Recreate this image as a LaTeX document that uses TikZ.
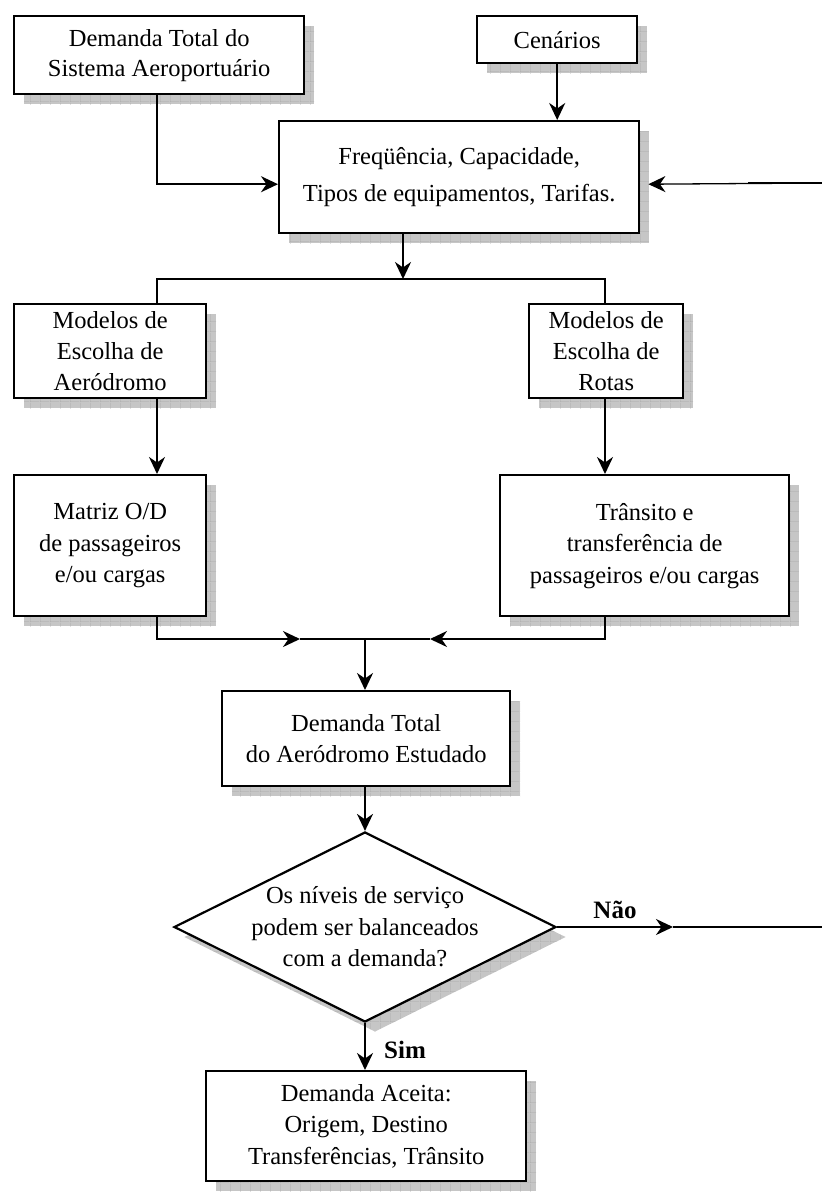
\documentclass[tikz,border=0pt]{standalone}
\usepackage{fontspec}
\setmainfont{Liberation Serif}
\usetikzlibrary{arrows.meta,shapes.geometric,shadows,calc,patterns.meta}
\tikzdeclarepattern{name=shgrid,type=uncolored,bounding box={(0pt,0pt) and (10pt,10pt)},
  tile size={(10pt,10pt)},line width=0.9pt,
  code={\draw (0pt,0pt) -- (10pt,0pt) (0pt,0pt) -- (0pt,10pt);}}
\begin{document}
\begin{tikzpicture}[x=1pt,y=-1pt,
  shad/.style={general shadow={shadow xshift=10pt,shadow yshift=-10pt,fill=gray!45,
      postaction={pattern=shgrid,pattern color=gray!68}}},
  box/.style={draw,line width=2.4pt,fill=white,inner sep=0pt,align=center,anchor=north west,
    font=\fontsize{24.5}{30}\selectfont,shad},
  conn/.style={line width=1.9pt},
  arr/.style={conn,-{Stealth[length=17pt,width=16pt,inset=5.5pt]}},
  lbl/.style={font=\bfseries\fontsize{25}{30}\selectfont,inner sep=0pt}]
\useasboundingbox (0,0) rectangle (822,1192);
% columns
\coordinate (cl) at (157,0);
\coordinate (cf) at (403,0);
\coordinate (cr) at (605,0);
\coordinate (cc) at (365,0);
% boxes
\node[box,minimum width=290pt,minimum height=78pt] (b1) at (13,15) {Demanda Total do\\Sistema Aeroportuário};
\node[box,minimum width=160pt,minimum height=47pt] (cen) at (476,15) {Cenários};
\node[box,minimum width=360pt,minimum height=112pt] (freq) at (278,120) {Freqüência, Capacidade,\\[7pt]Tipos de equipamentos, Tarifas.};
\node[box,minimum width=192pt,minimum height=94pt,font=\fontsize{24.5}{31}\selectfont] (aer) at (13,303) {Modelos de\\Escolha de\\Aeródromo};
\node[box,minimum width=154pt,minimum height=94pt,font=\fontsize{24.5}{31}\selectfont] (rot) at (528,303) {Modelos de\\Escolha de\\Rotas};
\node[box,minimum width=192pt,minimum height=141pt,font=\fontsize{24.5}{31.5}\selectfont] (mat) at (13,474) {Matriz O/D\\de passageiros\\e/ou cargas};
\node[box,minimum width=289pt,minimum height=141pt,font=\fontsize{24.5}{31.5}\selectfont] (tra) at (499,474) {Trânsito e\\transferência de\\passageiros e/ou cargas};
\node[box,minimum width=288pt,minimum height=95pt,font=\fontsize{24.5}{31}\selectfont] (dem) at (221,690) {Demanda Total\\do Aeródromo Estudado};
\node[diamond,draw,line width=2.2pt,fill=white,inner sep=0pt,minimum width=382pt,minimum height=190pt,shad] (d) at (365,927) {};
\node[align=center,font=\fontsize{24.5}{31.5}\selectfont] (dt) at (d.center) {Os níveis de serviço\\podem ser balanceados\\com a demanda?};
\node[box,minimum width=320pt,minimum height=110pt,font=\fontsize{24.5}{31.5}\selectfont] (acc) at (205,1070) {Demanda Aceita:\\Origem, Destino\\Transferências, Trânsito};
% labels
\node[lbl,anchor=base] (nao) at (615,918) {Não};
\node[lbl,anchor=base west] (sim) at (384,1058) {Sim};
% connectors
\draw[arr] (b1.south -| cl) |- ($(freq.west)+(0,7)$);
\draw[arr] (cen.south) -- (cen.south |- freq.north);
\coordinate (rin) at (822,183);
\coordinate (rmid) at (748,183);
\draw[arr,line width=1.3pt] (rin) -- ($(freq.east)+(8,7)$);
\draw[line width=2.6pt] (rmid) -- (rin);
\coordinate (j1) at (403,279);
\draw[arr] (freq.south -| cf) -- (j1);
\draw[conn] (aer.north -| cl) |- (j1 -| cr) -- (rot.north -| cr);
\draw[arr] (aer.south -| cl) -- (mat.north -| cl);
\draw[arr] (rot.south -| cr) -- (tra.north -| cr);
\coordinate (jc) at (365,639);
\coordinate (ma) at (300,639);
\coordinate (mb) at (430,639);
\draw[arr] (mat.south -| cl) |- (ma);
\draw[conn] (ma) -- (jc);
\draw[arr] (tra.south -| cr) |- (mb);
\draw[conn] (mb) -- (jc);
\draw[arr] (jc) -- (jc |- dem.north);
\draw[arr] (dem.south -| cc) -- (d.north -| cc);
\coordinate (nt) at (673,927);
\coordinate (nend) at (822,927);
\draw[arr] (d.east) -- (nt);
\draw[conn] (nt) -- (nend);
\draw[arr] (d.south -| cc) -- (acc.north -| cc);
\end{tikzpicture}
\end{document}
